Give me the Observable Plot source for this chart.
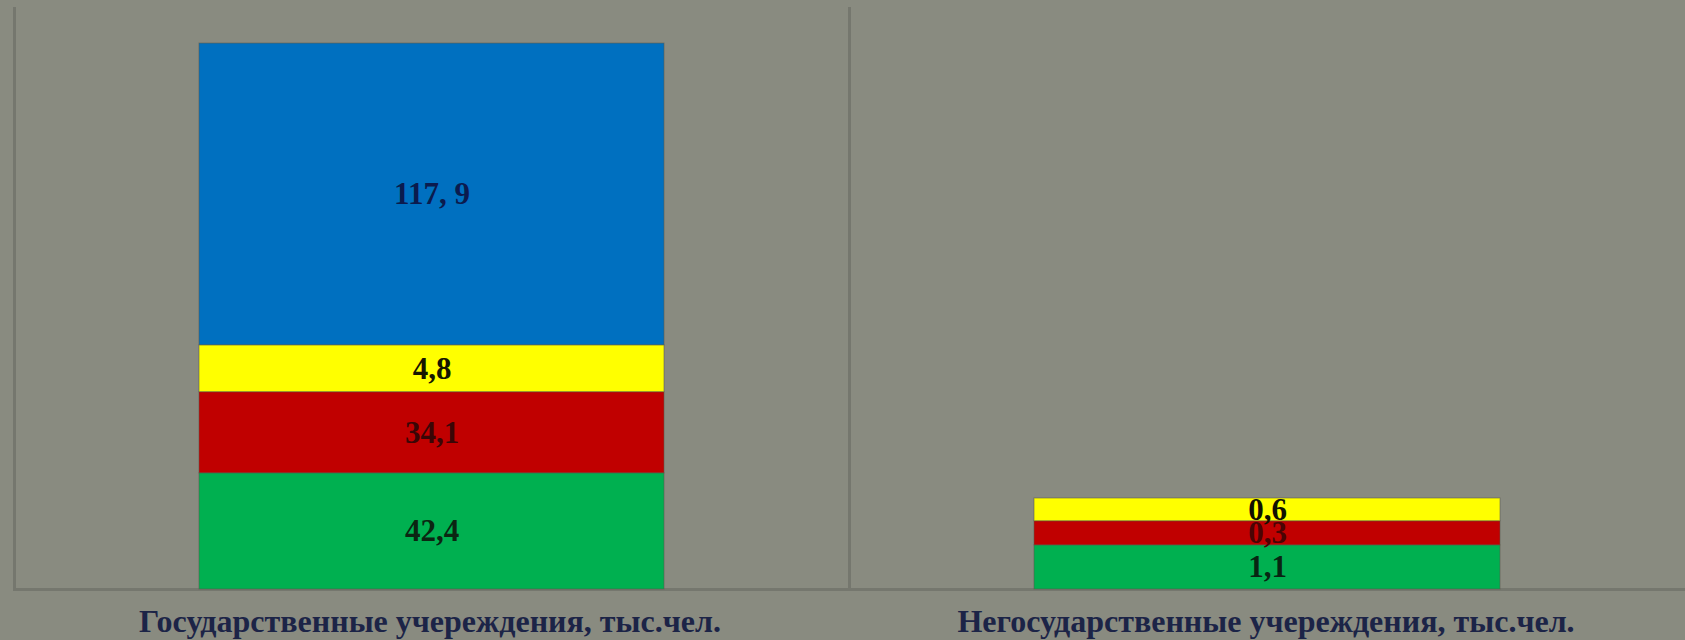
<!DOCTYPE html>
<html><head><meta charset="utf-8">
<script src="https://cdn.jsdelivr.net/npm/d3@7"></script>
<script src="https://cdn.jsdelivr.net/npm/@observablehq/plot@0.6"></script>
<style>
html,body{margin:0;padding:0;background:#898b80;}
#wrap{position:relative;width:1685px;height:640px;overflow:hidden;background:#898b80;}
.panel{position:absolute;top:0;}
.panel svg{display:block;overflow:visible;}
.cap{font-family:"Liberation Serif","Times New Roman",serif;font-weight:bold;font-size:32px;line-height:32px;color:#1c2447;text-align:center;margin-top:13px;white-space:nowrap;}
</style></head><body><div id="wrap"></div>
<script>
// Panel titles (categories)
const panelTitles = ["Государственные учереждения, тыс.чел.", "Негосударственные учереждения, тыс.чел."];
// Stack segments, bottom to top
const segmentKeys = ["s1", "s2", "s3", "s4"];
const segmentColors = ["#00b050", "#c00000", "#ffff00", "#0070c0"];
// Value labels as printed on the picture
const stateLabels = ["42,4", "34,1", "4,8", "117, 9"];
const privateLabels = ["1,1", "0,3", "0,6"];
// Segment sizes as drawn on the picture (thousand people, each panel on its own scale)
const stateSizes = [42.4, 29.6, 17.1, 110.1];
const privateSizes = [0.97, 0.53, 0.50];
// Label colours per segment
const stateLabelColors = ["#0b2612", "#3a0606", "#161600", "#0b1b4e"];
const privateLabelColors = ["#082512", "#4a0404", "#111100"];
// Y-scale maxima per panel
const yMax = [212, 12.77];

function rows(title, sizes, labels, lcolors) {
  return sizes.map((h, i) => ({panel: title, key: segmentKeys[i], h, label: labels[i], color: segmentColors[i], lc: lcolors[i]}));
}

function panelPlot(data, title, width, ymax) {
  return Plot.plot({
    width, height: 592,
    marginTop: 8, marginBottom: 3, marginLeft: 2, marginRight: 0,
    x: {type: "band", domain: [title], padding: 0.2837, axis: null},
    y: {domain: [0, ymax], axis: null},
    color: {type: "identity"},
    style: {background: "transparent", overflow: "visible"},
    marks: [
      Plot.frame({anchor: "left", stroke: "#75776e", strokeWidth: 3}),
      Plot.ruleY([0], {stroke: "#75776e", strokeWidth: 3}),
      Plot.barY(data, Plot.stackY({x: "panel", y: "h", fill: "color", stroke: "#5a5a48", strokeWidth: 1, strokeOpacity: 0.55})),
      Plot.text(data, Plot.stackY({x: "panel", y: "h", text: "label", fill: "lc", fontSize: 31, fontWeight: "bold", fontFamily: "Liberation Serif, Times New Roman, serif"}))
    ]
  });
}

const wrap = document.getElementById("wrap");
const specs = [
  {left: 12, width: 836, data: rows(panelTitles[0], stateSizes, stateLabels, stateLabelColors), title: panelTitles[0], ymax: yMax[0]},
  {left: 847, width: 838, data: rows(panelTitles[1], privateSizes, privateLabels, privateLabelColors), title: panelTitles[1], ymax: yMax[1]}
];
for (const s of specs) {
  const div = document.createElement("div");
  div.className = "panel";
  div.style.left = s.left + "px";
  div.style.width = s.width + "px";
  div.appendChild(panelPlot(s.data, s.title, s.width, s.ymax));
  const cap = document.createElement("div");
  cap.className = "cap";
  cap.textContent = s.title;
  div.appendChild(cap);
  wrap.appendChild(div);
}
</script>
</body></html>
